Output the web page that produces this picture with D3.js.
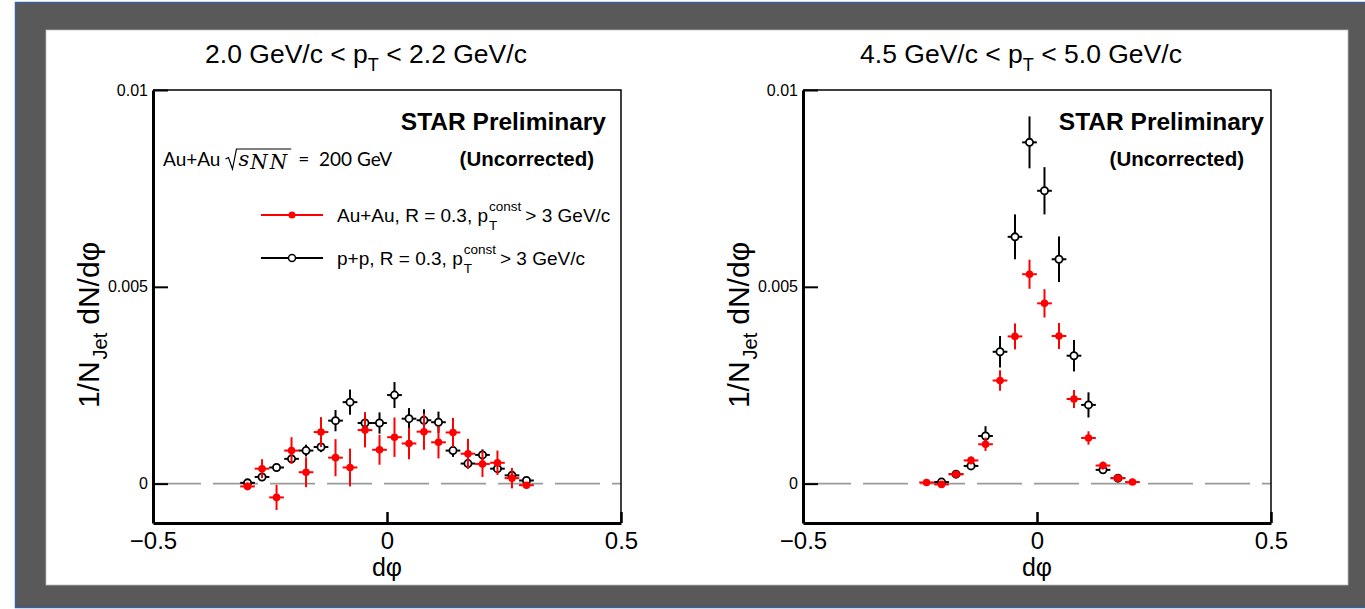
<!DOCTYPE html>
<html><head><meta charset="utf-8">
<script src="https://cdn.jsdelivr.net/npm/d3@7"></script>
<style>
html,body{margin:0;padding:0;background:#fff;}
svg{display:block;}
</style></head>
<body>
<svg id="chart" width="1365" height="609"></svg>
<script>
// ---------------- data ----------------
const binCentersLeft = [-0.298,-0.267,-0.236,-0.204,-0.173,-0.141,-0.110,-0.079,-0.047,-0.016,
                         0.016, 0.047, 0.079, 0.110, 0.141, 0.173, 0.204, 0.236, 0.267, 0.298];
const leftAuAu    = [-0.00007,0.00038,-0.00035,0.00084,0.00029,0.00131,0.00066,0.00041,0.00136,0.00086,
                      0.00118,0.00102,0.00132,0.00105,0.00130,0.00076,0.00050,0.00053,0.00014,-0.00004];
const leftAuAuErr = [0.00010,0.00024,0.00032,0.00034,0.00038,0.00038,0.00047,0.00048,0.00044,0.00038,
                     0.00050,0.00040,0.00046,0.00041,0.00037,0.00038,0.00033,0.00031,0.00026,0.00008];
const leftPP      = [0.00002,0.00017,0.00041,0.00063,0.00084,0.00093,0.00160,0.00207,0.00154,0.00154,
                     0.00225,0.00165,0.00161,0.00156,0.00084,0.00051,0.00073,0.00038,0.00021,0.00008];
const leftPPErr   = [0.00005,0.00007,0.00008,0.00010,0.00015,0.00013,0.00027,0.00032,0.00027,0.00027,
                     0.00033,0.00027,0.00028,0.00027,0.00016,0.00013,0.00014,0.00010,0.00008,0.00005];

const rightAuAuX   = [-0.236,-0.204,-0.173,-0.141,-0.110,-0.079,-0.047,-0.016,0.016,0.047,0.079,0.110,0.141,0.173,0.204];
const rightAuAu    = [0.00003,-0.00002,0.00024,0.00059,0.00100,0.00262,0.00374,0.00532,0.00458,0.00375,0.00215,0.00116,0.00046,0.00014,0.00004];
const rightAuAuErr = [0.00005,0.00005,0.00006,0.00010,0.00017,0.00026,0.00033,0.00037,0.00036,0.00033,0.00023,0.00017,0.00010,0.00006,0.00005];
const rightPPX     = [-0.204,-0.173,-0.141,-0.110,-0.079,-0.047,-0.016,0.016,0.047,0.079,0.110,0.141,0.173];
const rightPP      = [0.00004,0.00024,0.00045,0.00121,0.00335,0.00627,0.00867,0.00744,0.00570,0.00325,0.00200,0.00035,0.00014];
const rightPPErr   = [0.00004,0.00007,0.00010,0.00025,0.00040,0.00057,0.00066,0.00060,0.00058,0.00040,0.00032,0.00010,0.00006];

const halfBin = 0.0157;
const xTickValues = [-0.5, 0, 0.5];
const xTickLabels = ["\u22120.5", "0", "0.5"];
const yTickValues = [0, 0.005, 0.01];
const yTickLabels = ["0", "0.005", "0.01"];
const panelTitles = [["2.0 GeV/c < p", "T", " < 2.2 GeV/c"], ["4.5 GeV/c < p", "T", " < 5.0 GeV/c"]];
const legendLabels = ["Au+Au, R = 0.3, p", "p+p, R = 0.3, p"];

// ---------------- layout ----------------
const svg = d3.select("#chart");
const FONT = "'Liberation Sans', Arial, Helvetica, sans-serif";

// frame background
svg.append("rect").attr("x",0).attr("y",0).attr("width",1365).attr("height",609).attr("fill","#ffffff");
svg.append("rect").attr("x",15.5).attr("y",2.5).attr("width",1360).attr("height",605)
   .attr("fill","#595959").attr("stroke","#3d5f9e").attr("stroke-width",1.5);
svg.append("rect").attr("x",46).attr("y",30).attr("width",1302).attr("height",555)
   .attr("fill","#ffffff").attr("stroke","#bbbbbb").attr("stroke-width",0.8);

const panels = [
  {x0:153, x1:621, titleX:366, auX:binCentersLeft, au:leftAuAu, auE:leftAuAuErr,
   ppX:binCentersLeft, pp:leftPP, ppE:leftPPErr, yTitleX:88, legend:true, starX:606, uncX:594},
  {x0:803, x1:1271, titleX:1021, auX:rightAuAuX, au:rightAuAu, auE:rightAuAuErr,
   ppX:rightPPX, pp:rightPP, ppE:rightPPErr, yTitleX:738, legend:false, starX:1264, uncX:1244}
];
const yTop = 90, yBot = 523;

panels.forEach((p, pi) => {
  const x = d3.scaleLinear().domain([-0.5, 0.5]).range([p.x0, p.x1]);
  const y = d3.scaleLinear().domain([-0.001, 0.01]).range([yBot, yTop]);
  const g = svg.append("g");

  // dashed zero line
  g.append("line").attr("x1", x(-0.5)).attr("x2", x(0.5)).attr("y1", y(0)).attr("y2", y(0))
    .attr("stroke","#9a9a9a").attr("stroke-width",1.6)
    .attr("stroke-dasharray","45 12").attr("stroke-dashoffset",54);

  // thin top/right frame
  g.append("path").attr("d", `M${x(-0.5)},${y(0.01)}H${x(0.5)}V${y(-0.001)}`)
    .attr("fill","none").attr("stroke","#000").attr("stroke-width",1.5);

  // axes
  const yAxis = d3.axisLeft(y).tickValues(yTickValues).tickSizeInner(-15).tickSizeOuter(0).tickPadding(5)
    .tickFormat((d,i) => yTickLabels[i]);
  const ya = g.append("g").attr("transform", `translate(${x(-0.5)},0)`).call(yAxis);
  ya.select(".domain").attr("stroke-width",3);
  ya.selectAll(".tick line").attr("stroke-width",2);
  ya.selectAll(".tick text").attr("font-family",FONT).attr("font-size",16).attr("fill","#000");

  const xAxis = d3.axisBottom(x).tickValues(xTickValues).tickSizeInner(-11).tickSizeOuter(0).tickPadding(12)
    .tickFormat((d,i) => xTickLabels[i]);
  const xa = g.append("g").attr("transform", `translate(0,${yBot})`).call(xAxis);
  xa.select(".domain").attr("stroke-width",3);
  xa.selectAll(".tick line").attr("stroke-width",2.5);
  xa.selectAll(".tick text").attr("font-family",FONT).attr("font-size",24).attr("fill","#000")
    .attr("dy",null).attr("y",null).attr("transform","translate(0,26)");

  // axis titles
  g.append("text").attr("x", x(0)).attr("y", 576).attr("text-anchor","middle")
    .attr("font-family",FONT).attr("font-size",25).text("d\u03C6");
  const yt = g.append("text").attr("transform", `translate(${p.yTitleX},325) rotate(-90)`)
    .attr("text-anchor","middle").attr("font-family",FONT).attr("font-size",30).attr("dy","0.35em");
  yt.append("tspan").text("1/N");
  yt.append("tspan").attr("font-size",20).attr("dx",2).attr("dy",8).text("Jet");
  yt.append("tspan").attr("dx",8).attr("dy",-8).text("dN/d\u03C6");

  // panel title
  const tt = g.append("text").attr("x", p.titleX).attr("y", 63).attr("text-anchor","middle")
    .attr("font-family",FONT).attr("font-size",26.5);
  tt.append("tspan").text(panelTitles[pi][0]);
  tt.append("tspan").attr("font-size",18).attr("dy",8).text(panelTitles[pi][1]);
  tt.append("tspan").attr("dy",-8).text(panelTitles[pi][2]);

  // labels
  g.append("text").attr("x", p.starX).attr("y", 130).attr("text-anchor","end")
    .attr("font-family",FONT).attr("font-weight","bold").attr("font-size",24.5).text("STAR Preliminary");
  g.append("text").attr("x", p.uncX).attr("y", 166).attr("text-anchor","end")
    .attr("font-family",FONT).attr("font-weight","bold").attr("font-size",20.5).text("(Uncorrected)");

  // data: p+p first
  const ppData = p.ppX.map((d,i) => ({x:d, y:p.pp[i], e:p.ppE[i]}));
  const auData = p.auX.map((d,i) => ({x:d, y:p.au[i], e:p.auE[i]}));

  function drawSeries(data, color, filled) {
    const s = g.append("g");
    s.selectAll("line.v").data(data).join("line").attr("class","v")
      .attr("x1", d => x(d.x)).attr("x2", d => x(d.x))
      .attr("y1", d => y(d.y - d.e)).attr("y2", d => y(d.y + d.e))
      .attr("stroke", color).attr("stroke-width", 2);
    s.selectAll("line.h").data(data).join("line").attr("class","h")
      .attr("x1", d => x(d.x - halfBin)).attr("x2", d => x(d.x + halfBin))
      .attr("y1", d => y(d.y)).attr("y2", d => y(d.y))
      .attr("stroke", color).attr("stroke-width", 2);
    s.selectAll("circle").data(data).join("circle")
      .attr("cx", d => x(d.x)).attr("cy", d => y(d.y))
      .attr("r", filled ? 3.8 : 3.6)
      .attr("fill", filled ? color : "#fff")
      .attr("stroke", filled ? "none" : color).attr("stroke-width", 1.8);
  }
  drawSeries(ppData, "#000", false);
  drawSeries(auData, "#ff0000", true);

  if (p.legend) {
    // energy label
    const ex = 163, ey = 166;
    const t1 = g.append("text").attr("x",ex).attr("y",ey).attr("font-family","Lato, 'Open Sans', sans-serif")
      .attr("font-size",19).text("Au+Au");
    const w1 = t1.node().getComputedTextLength();
    const sx = ex + w1 + 5;
    const t2 = g.append("text").attr("x", sx+13).attr("y", ey).attr("font-family","'DejaVu Serif', 'Liberation Serif', serif")
      .attr("font-style","italic").attr("font-size",21);
    t2.append("tspan").attr("letter-spacing",1).text("s");
    t2.append("tspan").attr("font-size",20).attr("letter-spacing",2).attr("dy",3).text("NN");
    const w2 = t2.node().getComputedTextLength();
    // sqrt sign
    g.append("path").attr("d", `M${sx},${ey-7} L${sx+3},${ey-8.5} L${sx+7},${ey+3} L${sx+11},${ey-17} H${sx+13+w2+2}`)
      .attr("fill","none").attr("stroke","#000").attr("stroke-width",1.2);
    g.append("text").attr("x", sx + 13 + w2 + 9).attr("y", ey).attr("font-family","Lato, 'Open Sans', sans-serif")
      .attr("font-size",19).attr("xml:space","preserve").text("=  200 GeV");

    // legend entries
    const entries = [{color:"#ff0000", filled:true, y:215, label:legendLabels[0]},
                     {color:"#000", filled:false, y:258, label:legendLabels[1]}];
    entries.forEach(en => {
      g.append("line").attr("x1",261).attr("x2",323).attr("y1",en.y).attr("y2",en.y)
        .attr("stroke",en.color).attr("stroke-width",1.8);
      g.append("circle").attr("cx",292).attr("cy",en.y).attr("r",3.5)
        .attr("fill", en.filled ? en.color : "#fff").attr("stroke", en.filled ? "none" : en.color).attr("stroke-width",1.5);
      const lx = 337, ly = en.y + 7;
      const a = g.append("text").attr("x",lx).attr("y",ly).attr("font-family",FONT).attr("font-size",19).text(en.label);
      const wa = a.node().getComputedTextLength();
      const sup = g.append("text").attr("x",lx+wa+1).attr("y",ly-11).attr("font-family",FONT).attr("font-size",13.5).text("const");
      g.append("text").attr("x",lx+wa+1).attr("y",ly+8).attr("font-family",FONT).attr("font-size",13.5).text("T");
      const ws = sup.node().getComputedTextLength();
      g.append("text").attr("x",lx+wa+ws+5).attr("y",ly).attr("font-family",FONT).attr("font-size",19).text("> 3 GeV/c");
    });
  }
});
</script>
</body></html>
